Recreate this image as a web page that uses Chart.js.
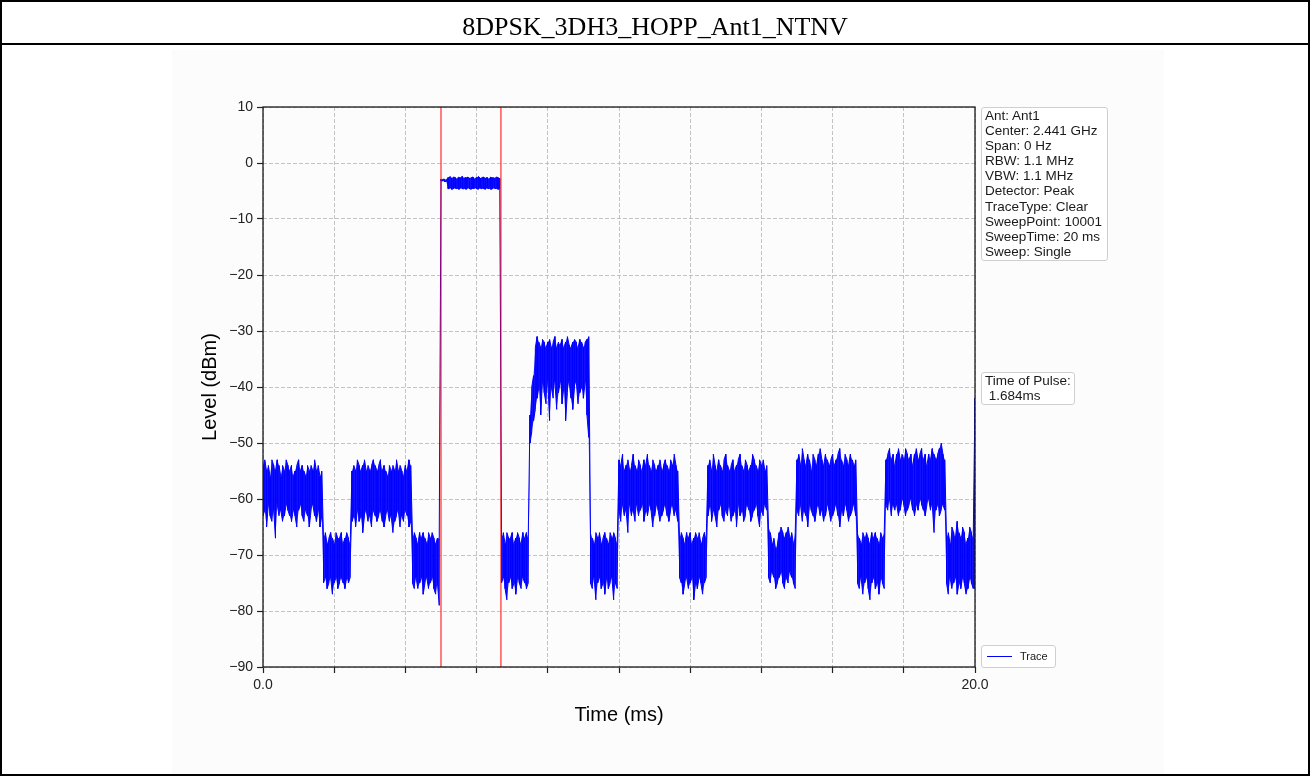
<!DOCTYPE html>
<html>
<head>
<meta charset="utf-8">
<script src="https://cdn.jsdelivr.net/npm/chart.js@4.4.0/dist/chart.umd.min.js"></script>
<style>
  html, body { margin: 0; padding: 0; background: #ffffff; }
  #page { position: relative; width: 1310px; height: 776px; overflow: hidden; font-family: "Liberation Sans", Arial, sans-serif; }
  #frame { position: absolute; left: 0; top: 0; width: 1310px; height: 776px; box-sizing: border-box; border: 2px solid #000; z-index: 5; pointer-events: none; }
  #title { position: absolute; left: 0; top: 0; width: 1310px; height: 45px; box-sizing: border-box; border-bottom: 2px solid #000; font-family: "Liberation Serif", "Times New Roman", serif; font-size: 26px; line-height: 54px; text-align: center; color: #000; z-index: 4; overflow: hidden; }
  #fig { position: absolute; left: 172px; top: 50px; width: 992px; height: 726px; background: #fcfcfc; }
  #chart { position: absolute; left: 0; top: 0; z-index: 2; }
  .box { position: absolute; background: rgba(255,255,255,0.85); border: 1px solid #cfcfcf; border-radius: 3px; color: #1a1a1a; z-index: 3; white-space: pre; box-sizing: border-box; }
  #info { left: 981px; top: 107px; width: 127px; height: 154px; font-size: 13.5px; line-height: 15.1px; padding: 0 0 0 3px; }
  #pulse { left: 981px; top: 372px; width: 94px; height: 33px; font-size: 13.5px; line-height: 14.5px; padding: 1px 0 0 3px; }
  #legend { left: 981px; top: 645px; width: 75px; height: 23px; font-size: 11px; line-height: 21px; padding-left: 38px; }
  #legend .swatch { position: absolute; left: 5px; top: 10px; width: 25px; height: 0; border-top: 1.3px solid #0000ff; }
</style>
</head>
<body>
<div id="page">
  <div id="fig"></div>
  <div id="title">8DPSK_3DH3_HOPP_Ant1_NTNV</div>
  <canvas id="chart" width="1310" height="776"></canvas>
  <div class="box" id="info"></div>
  <div class="box" id="pulse"></div>
  <div class="box" id="legend"><span class="swatch"></span>Trace</div>
  <div id="frame"></div>
</div>
<script>
// ---------------- data ----------------
const sampleStep = 0.05;          // ms between envelope samples (sweep grid)
const xMin = 0, xMax = 20;         // ms
const yMin = -90, yMax = 10;       // dBm
const xTickStep = 2;
const yTickStep = 10;
const xTickLabels = { 0: '0.0', 20: '20.0' };
const markerTimes = [5.0, 6.684];  // red pulse markers (ms)

// Upper envelope of the trace in each 0.05 ms sample (dBm)
const traceMax = [
  // 0.00 - 1.65 ms
  -54,-53,-55,-54,-56,-53,-54,-55,-53,-54, -56,-54,-55,-53,-54,-55,-54,-56,-55,-54, -53,-55,-54,-55,-56,-54,-55,-54,-55,-53, -55,-54,-56,-55,
  // 1.70 - 2.45
  -67,-66,-68,-67,-66,-67,-68,-66,-67,-67, -66,-68,-67,-66,-67,-68,
  // 2.50 - 4.15
  -55,-54,-55,-53,-54,-55,-54,-53,-55,-54, -55,-54,-53,-54,-55,-54,-53,-55,-54,-55, -56,-54,-55,-54,-55,-53,-55,-54,-55,-56, -54,-55,-53,-54,
  // 4.20 - 4.95
  -67,-66,-67,-68,-66,-67,-66,-67,-68,-66, -67,-66,-67,-68,-67,-67,
  // 5.00 - 6.65 (pulse)
  -2.9,-2.9,-2.9,-3.0,-2.6,-2.4,-2.7,-2.5,-2.6,-2.8, -2.5,-2.6,-2.4,-2.7,-2.6,-2.5,-2.7,-2.6,-2.5,-2.8, -2.6,-2.4,-2.7,-2.6,-2.5,-2.7,-2.6,-2.8,-2.5,-2.6, -2.7,-2.5,-2.6,-2.7,
  // 6.70 - 7.45
  -67,-66,-68,-66,-67,-67,-66,-68,-67,-66, -67,-68,-66,-67,-66,-67,
  // 7.50 - 9.15
  -45,-40,-38,-33,-31,-32,-33,-31.5,-32,-33, -32,-31.5,-33,-32,-31,-33,-32,-32.5,-31.5,-33, -32,-31,-32.5,-33,-32,-31.5,-32,-33,-31.5,-32, -33,-32,-31.5,-31,
  // 9.20 - 9.95
  -66,-67,-68,-66,-67,-66,-68,-67,-66,-67, -68,-66,-67,-66,-67,-68,
  // 10.00 - 11.65
  -53,-54,-52,-55,-54,-53,-55,-54,-52,-54, -55,-53,-54,-55,-53,-54,-52,-54,-55,-53, -54,-55,-54,-53,-55,-54,-53,-54,-55,-53, -54,-52,-54,-55,
  // 11.70 - 12.45
  -67,-66,-67,-68,-66,-67,-66,-68,-67,-66, -67,-66,-68,-67,-66,-67,
  // 12.50 - 14.15
  -54,-53,-55,-52,-54,-55,-53,-54,-55,-53, -52,-54,-55,-54,-53,-55,-54,-53,-52,-54, -55,-53,-54,-55,-54,-52,-53,-54,-55,-53, -54,-53,-55,-54,
  // 14.20 - 14.95
  -65,-66,-68,-67,-69,-68,-66,-65,-66,-67, -66,-65,-67,-66,-68,-66,
  // 15.00 - 16.65
  -53,-52,-54,-51,-53,-54,-52,-53,-55,-52, -53,-54,-52,-51,-53,-54,-52,-53,-54,-53, -52,-54,-53,-52,-51,-53,-54,-52,-53,-54, -52,-53,-54,-53,
  // 16.70 - 17.45
  -66,-67,-68,-66,-67,-66,-67,-68,-66,-67, -66,-67,-68,-66,-67,-66,
  // 17.50 - 19.15
  -53,-52,-51,-53,-52,-54,-52,-51,-53,-52, -53,-51,-52,-53,-52,-54,-52,-51,-53,-52, -51,-53,-52,-54,-52,-53,-51,-52,-53,-52, -51,-50,-52,-53,
  // 19.20 - 20.00
  -67,-66,-68,-65,-66,-67,-64,-66,-67,-65, -66,-68,-67,-65,-66,-67,-42
];

// Lower envelope of the trace in each 0.05 ms sample (dBm)
const traceMin = [
  // 0.00 - 1.65 ms
  -63,-62,-65,-61,-63,-64,-62,-67,-61,-63, -62,-64,-63,-61,-62,-63,-64,-62,-63,-65, -62,-61,-63,-64,-62,-63,-65,-62,-61,-63, -64,-62,-65,-63,
  // 1.70 - 2.45
  -75,-74,-76,-75,-74,-77,-75,-74,-76,-75, -74,-75,-76,-74,-75,-74,
  // 2.50 - 4.15
  -64,-63,-65,-62,-64,-63,-66,-63,-62,-64, -63,-65,-62,-63,-64,-63,-62,-64,-65,-63, -62,-64,-63,-66,-64,-63,-62,-65,-63,-64, -62,-63,-65,-64,
  // 4.20 - 4.95
  -75,-76,-74,-76,-75,-74,-77,-75,-74,-76, -75,-74,-76,-77,-75,-79,
  // 5.00 - 6.65 (pulse)
  -3.2,-3.2,-3.3,-3.3,-4.6,-4.5,-4.7,-4.6,-4.5,-4.6, -4.7,-4.5,-4.6,-4.6,-4.7,-4.5,-4.6,-4.7,-4.6,-4.5, -4.6,-4.7,-4.5,-4.6,-4.6,-4.7,-4.5,-4.6,-4.7,-4.6, -4.5,-4.6,-4.7,-4.6,
  // 6.70 - 7.45
  -75,-74,-76,-78,-75,-74,-76,-75,-77,-74, -75,-76,-74,-75,-76,-75,
  // 7.50 - 9.15
  -50,-48,-46,-44,-42,-40,-45,-39,-41,-43, -39,-46,-40,-42,-39,-44,-41,-39,-43,-40, -46,-41,-39,-42,-44,-40,-39,-43,-41,-40, -42,-39,-45,-49,
  // 9.20 - 9.95
  -75,-76,-74,-78,-75,-74,-76,-75,-77,-74, -76,-75,-74,-78,-75,-76,
  // 10.00 - 11.65
  -62,-64,-61,-63,-62,-66,-61,-63,-62,-64, -61,-63,-62,-61,-64,-62,-63,-61,-62,-65, -63,-61,-62,-64,-63,-62,-61,-63,-64,-62, -61,-63,-62,-64,
  // 11.70 - 12.45
  -74,-75,-77,-75,-74,-76,-75,-74,-78,-75, -76,-74,-75,-77,-75,-74,
  // 12.50 - 14.15
  -63,-61,-64,-62,-63,-65,-62,-61,-63,-64, -62,-63,-61,-64,-63,-62,-65,-61,-63,-62, -64,-63,-61,-62,-64,-63,-62,-61,-63,-65, -62,-63,-61,-62,
  // 14.20 - 14.95
  -74,-75,-73,-74,-76,-75,-74,-73,-75,-76, -74,-75,-73,-74,-75,-76,
  // 15.00 - 16.65
  -62,-63,-61,-64,-62,-63,-65,-61,-62,-63, -64,-62,-61,-63,-62,-64,-63,-61,-62,-64, -63,-62,-61,-63,-65,-62,-63,-61,-62,-64, -63,-62,-61,-63,
  // 16.70 - 17.45
  -75,-76,-74,-77,-75,-74,-76,-78,-75,-74, -76,-75,-77,-74,-75,-76,
  // 17.50 - 19.15
  -61,-62,-60,-63,-61,-62,-61,-63,-62,-60, -61,-63,-62,-61,-60,-62,-63,-61,-62,-60, -61,-62,-63,-61,-60,-62,-61,-66,-62,-61, -63,-62,-61,-62,
  // 19.20 - 20.00
  -75,-77,-74,-76,-75,-74,-77,-75,-76,-74, -75,-77,-76,-74,-75,-76,-76
];

const infoLines = ['Ant: Ant1', 'Center: 2.441 GHz', 'Span: 0 Hz', 'RBW: 1.1 MHz', 'VBW: 1.1 MHz',
  'Detector: Peak', 'TraceType: Clear', 'SweepPoint: 10001', 'SweepTime: 20 ms', 'Sweep: Single'];
const pulseLines = ['Time of Pulse:', ' 1.684ms'];

// ---------------- build ----------------
document.getElementById('info').textContent = infoLines.join('\n');
document.getElementById('pulse').textContent = pulseLines.join('\n');

const n = Math.min(traceMax.length, traceMin.length);
const tracePoints = [], upperPoints = [], lowerPoints = [];
for (let i = 0; i < n; i++) {
  const t = +(i * sampleStep).toFixed(3);
  upperPoints.push({ x: t, y: traceMax[i] });
  lowerPoints.push({ x: t, y: traceMin[i] });
  if (i % 2 === 0) tracePoints.push({ x: t, y: traceMax[i] }, { x: t, y: traceMin[i] });
  else tracePoints.push({ x: t, y: traceMin[i] }, { x: t, y: traceMax[i] });
}
const markerSets = markerTimes.map(t => ({
  label: 'marker', data: [{ x: t, y: yMin }, { x: t, y: yMax }],
  borderColor: '#ff0000', borderWidth: 1, pointRadius: 0, fill: false, order: 0
}));

const framePlugin = {
  id: 'frame',
  afterDraw(chart) {
    const a = chart.chartArea, c = chart.ctx;
    c.save();
    c.strokeStyle = '#1a1a1a';
    c.lineWidth = 1.3;
    c.strokeRect(a.left, a.top, a.right - a.left, a.bottom - a.top);
    c.restore();
  }
};

const tickFont = { family: '"Liberation Sans", Arial, sans-serif', size: 14 };
const titleFont = { family: '"Liberation Sans", Arial, sans-serif', size: 20 };

new Chart(document.getElementById('chart'), {
  type: 'line',
  data: {
    datasets: [
      { label: 'Trace', data: tracePoints, borderColor: '#0000ff', borderWidth: 1, pointRadius: 0, fill: false, tension: 0, order: 1 },
      { label: 'upper', data: upperPoints, borderColor: 'rgba(0,0,255,0)', borderWidth: 0, pointRadius: 0, fill: false, tension: 0, order: 2 },
      { label: 'lower', data: lowerPoints, borderColor: 'rgba(0,0,255,0)', borderWidth: 0, pointRadius: 0, fill: '-1', backgroundColor: 'rgba(0,0,255,0.9)', tension: 0, order: 2 },
      ...markerSets
    ]
  },
  options: {
    responsive: false,
    animation: false,
    devicePixelRatio: 1,
    layout: { padding: { left: 175, right: 335, top: 107, bottom: 0 } },
    plugins: { legend: { display: false }, tooltip: { enabled: false }, title: { display: false } },
    scales: {
      x: {
        type: 'linear', min: xMin, max: xMax,
        afterFit(s) { s.height = 109; },
        ticks: {
          stepSize: xTickStep, autoSkip: false, maxRotation: 0, padding: 4,
          font: tickFont, color: '#222',
          callback: v => (xTickLabels[v] !== undefined ? xTickLabels[v] : '')
        },
        grid: { color: '#b4b4b4', lineWidth: 0.8, tickColor: '#222', tickLength: 6, tickWidth: 1.2 },
        border: { display: false, dash: [4, 2] },
        title: { display: true, text: 'Time (ms)', font: titleFont, color: '#000', padding: { top: 0, bottom: 49 } }
      },
      y: {
        type: 'linear', min: yMin, max: yMax,
        afterFit(s) { s.width = 88; },
        ticks: {
          stepSize: yTickStep, padding: 4, font: tickFont, color: '#222',
          callback: v => (v < 0 ? '\u2212' + Math.abs(v) : String(v))
        },
        grid: { color: '#b4b4b4', lineWidth: 0.8, tickColor: '#222', tickLength: 6, tickWidth: 1.2 },
        border: { display: false, dash: [4, 2] },
        title: { display: true, text: 'Level (dBm)', font: titleFont, color: '#000', padding: { top: 23, bottom: 0 } }
      }
    }
  },
  plugins: [framePlugin]
});
</script>
</body>
</html>
